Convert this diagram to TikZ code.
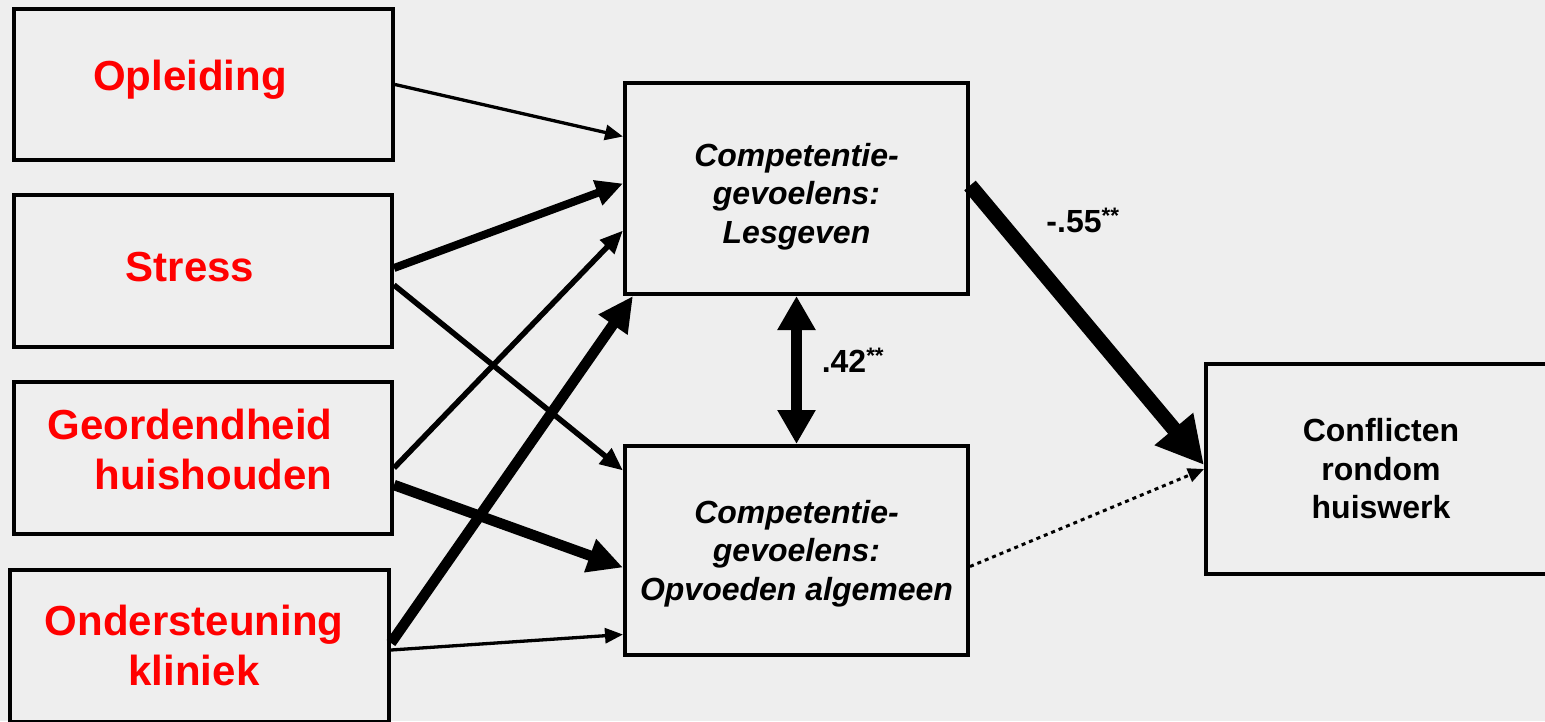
\documentclass[tikz,border=0pt]{standalone}
\usepackage{fontspec}
\setmainfont{Liberation Sans}
\usetikzlibrary{arrows.meta}
\definecolor{bggray}{HTML}{EEEEEE}
\definecolor{lblred}{HTML}{FF0000}

\begin{document}
\begin{tikzpicture}[x=1pt,y=-1pt,
  box/.style={draw,line width=4pt,inner sep=0pt},
  redtxt/.style={text=lblred,font=\fontsize{42}{50}\selectfont\bfseries,align=center},
  comptxt/.style={font=\fontsize{32}{38.5}\selectfont\bfseries\itshape,align=center},
  conftxt/.style={font=\fontsize{32}{38.5}\selectfont\bfseries,align=center},
  coef/.style={font=\fontsize{32}{38}\selectfont\bfseries},
  thinarr/.style={line width=3.3pt,-{Triangle[length=18pt,width=15pt]}},
  midarr/.style={line width=5.5pt,-{Triangle[length=23pt,width=19pt]}},
  thickarr/.style={line width=8pt,-{Triangle[length=27pt,width=25pt]}},
  heavyarr/.style={line width=10.5pt,-{Triangle[length=35pt,width=33pt]}},
  maxarr/.style={line width=15pt,-{Triangle[length=47pt,width=47pt]}},
  dotarr/.style={line width=3pt,dash pattern=on 4pt off 4pt,-{Triangle[length=16pt,width=14pt]}}]

\path[use as bounding box,fill=bggray] (0,0) rectangle (1545,721);

% predictors
\node[box,minimum width=379pt,minimum height=151pt] (opl) at (203.5,84.5) {};
\node[redtxt] (opl-t) at (190,80) {Opleiding};
\node[box,minimum width=378pt,minimum height=152pt] (str) at (203,271) {};
\node[redtxt] (str-t) at (190,267) {Stress};
\node[box,minimum width=378pt,minimum height=152pt] (geo) at (203,458) {};
\node[redtxt,align=right] (geo-t) at (190,449) {Geordendheid\\huishouden};
\node[box,minimum width=379pt,minimum height=152pt] (ond) at (199.5,646) {};
\node[redtxt] (ond-t) at (194,645) {Ondersteuning\\kliniek};

% mediators and outcome
\node[box,minimum width=343pt,minimum height=211pt] (les) at (796.5,188.5) {};
\node[comptxt] (les-t) at ([yshift=-8pt]les) {Competentie-\\gevoelens:\\Lesgeven};
\node[box,minimum width=343pt,minimum height=209pt] (opv) at (796.5,550.5) {};
\node[comptxt] (opv-t) at ([yshift=-3pt]opv) {Competentie-\\gevoelens:\\Opvoeden algemeen};
\node[box,minimum width=342pt,minimum height=210pt] (con) at (1377,469) {};
\node[conftxt] (con-t) at ([xshift=4pt]con) {Conflicten\\rondom\\huiswerk};

\draw[thinarr] (opl.east) -- ([yshift=52pt]les.west);
\draw[thickarr] ([yshift=3pt]str.east) -- ([yshift=5pt]les.west);
\draw[midarr] ([yshift=-14pt]str.east) -- ([yshift=80pt]opv.west);
\draw[midarr] ([yshift=-10pt]geo.east) -- ([yshift=-42pt]les.west);
\draw[heavyarr] ([yshift=-27pt]geo.east) -- ([yshift=-17pt]opv.west);
\draw[heavyarr] ([yshift=3pt]ond.east) -- ([xshift=10pt]les.south west);
\draw[thinarr] ([yshift=-4pt]ond.east) -- ([yshift=-84pt]opv.west);

\draw[maxarr] ([yshift=3pt]les.east) -- ([yshift=4pt]con.west);
\draw[dotarr] ([yshift=-16pt]opv.east) -- (con.west);
\draw[line width=11pt,{Triangle[length=34pt,width=36pt]}-{Triangle[length=34pt,width=36pt]}] (les.south) -- (opv.north);

\node[coef] (c-les) at (1083,220) {-.55\textsuperscript{**}};
\node[coef] (c-cor) at (853,360) {.42\textsuperscript{**}};
\end{tikzpicture}
\end{document}
